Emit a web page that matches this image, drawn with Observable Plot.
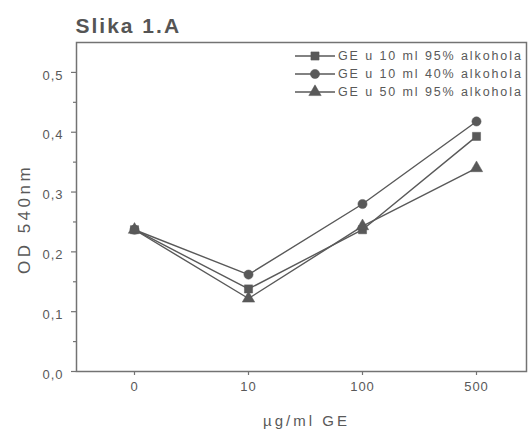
<!DOCTYPE html>
<html><head><meta charset="utf-8">
<script src="https://cdn.jsdelivr.net/npm/d3@7"></script>
<script src="https://cdn.jsdelivr.net/npm/@observablehq/plot@0.6"></script>
<style>
body{margin:0;background:#fff;}
#chart{position:relative;width:532px;height:433px;overflow:hidden;}
</style>
</head><body><div id="chart"></div>
<script>
const doses = ["0", "10", "100", "500"];
const seriesNames = ["GE u 10 ml 95% alkohola", "GE u 10 ml 40% alkohola", "GE u 50 ml 95% alkohola"];
const seriesSymbols = ["square", "circle", "triangle"];
const s1 = [0.237, 0.138, 0.237, 0.393];
const s2 = [0.237, 0.162, 0.280, 0.418];
const s3 = [0.237, 0.122, 0.243, 0.340];
const yTicks = [0, 0.1, 0.2, 0.3, 0.4, 0.5];
const yMinorTicks = [0.05, 0.15, 0.25, 0.35, 0.45];
const titleText = "Slika 1.A";
const xLabel = "µg/ml GE";
const yLabel = "OD 540nm";

const data = [s1, s2, s3].flatMap((vals, i) =>
  vals.map((v, j) => ({series: seriesNames[i], dose: doses[j], od: v})));

const ink = "#595959";
const axisInk = "#737373";
const font = "'Liberation Sans', Arial, Helvetica, sans-serif";
const W = 532, H = 433, mL = 76, mR = 6, mT = 42, mB = 62;
const frameW = W - mL - mR, frameH = H - mT - mB;

const chart = Plot.plot({
  width: W, height: H,
  marginLeft: mL, marginRight: mR, marginTop: mT, marginBottom: mB,
  style: {fontFamily: font, color: ink, background: "#fff", overflow: "visible"},
  x: {type: "point", domain: doses, range: [134, 476], padding: 0},
  y: {domain: [0, 0.55]},
  symbol: {domain: seriesNames, range: seriesSymbols},
  marks: [
    Plot.frame({stroke: axisInk, strokeWidth: 1.5}),
    // minor and major y ticks (outward, left of the axis)
    Plot.ruleY(yMinorTicks, {y: d => d, insetLeft: -3, insetRight: frameW, stroke: axisInk, strokeWidth: 1.2}),
    Plot.ruleY(yTicks, {y: d => d, insetLeft: -5, insetRight: frameW, stroke: axisInk, strokeWidth: 1.2}),
    // x ticks (outward, below the axis)
    Plot.ruleX(doses, {x: d => d, insetTop: frameH, insetBottom: -4, stroke: axisInk, strokeWidth: 1.2}),
    Plot.axisY({ticks: yTicks, tickSize: 0, tickPadding: 13, dy: 3, fontSize: 13, label: null, fill: ink,
      tickFormat: d => d.toFixed(1).replace(".", ",")}),
    Plot.axisX({tickSize: 0, tickPadding: 10, fontSize: 13, label: null, fill: ink}),
    Plot.line(data, {x: "dose", y: "od", z: "series", stroke: ink, strokeWidth: 1.4}),
    Plot.dot(data, {x: "dose", y: "od", symbol: "series", r: 4.6, fill: ink, stroke: ink, strokeWidth: 0.5}),
    Plot.text([titleText], {text: d => d, frameAnchor: "top-left", textAnchor: "start", lineAnchor: "bottom",
      dx: -1, dy: -10, fontSize: 21, fontWeight: "bold", fill: "#555"}),
    Plot.text([xLabel], {text: d => d, frameAnchor: "bottom", textAnchor: "middle", lineAnchor: "middle",
      dx: 5, dy: 50, fontSize: 15, fill: ink}),
    Plot.text([yLabel], {text: d => d, frameAnchor: "left", textAnchor: "middle", rotate: -90, lineAnchor: "middle",
      dx: -52, dy: 12, fontSize: 17, fill: ink})
  ]
});

const svg = d3.select(chart);
svg.selectAll("text").each(function() {
  const t = this.textContent;
  const sel = d3.select(this);
  if (t === titleText) sel.style("letter-spacing", "2px");
  else if (t === xLabel) sel.style("letter-spacing", "3px");
  else if (t === yLabel) sel.style("letter-spacing", "3.5px");
  else sel.style("letter-spacing", "1px");
});

// Legend inside the plot area, top right
const legend = svg.append("g").attr("font-family", font).attr("font-size", 12.5)
  .attr("fill", ink).attr("text-anchor", "start");
const rowY = [56, 74, 92];
const symMap = {square: d3.symbolSquare, circle: d3.symbolCircle, triangle: d3.symbolTriangle};
seriesNames.forEach((name, i) => {
  const g = legend.append("g").attr("transform", `translate(0,${rowY[i]})`);
  g.append("line").attr("x1", 295).attr("x2", 335).attr("y1", 0).attr("y2", 0)
    .attr("stroke", ink).attr("stroke-width", 1.4);
  g.append("path").attr("transform", "translate(315,0)")
    .attr("d", d3.symbol(symMap[seriesSymbols[i]], 4.6 * 4.6 * Math.PI)())
    .attr("fill", ink).attr("stroke", ink).attr("stroke-width", 0.5);
  g.append("text").attr("x", 338).attr("dy", "0.35em").style("letter-spacing", "1.9px").text(name);
});

document.getElementById("chart").appendChild(chart);
</script>
</body></html>
